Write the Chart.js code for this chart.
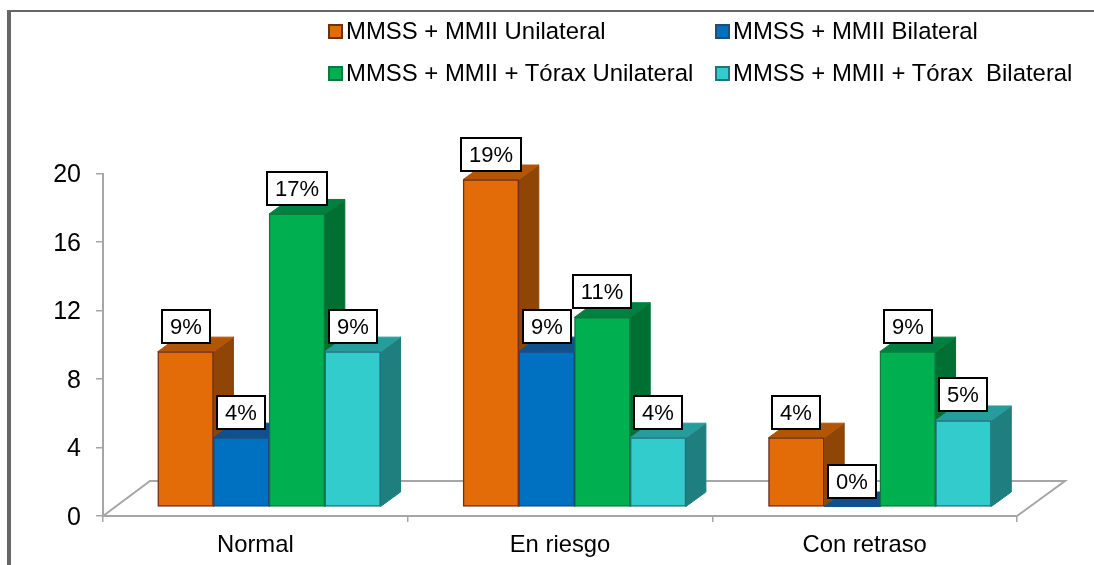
<!DOCTYPE html>
<html lang="es">
<head>
    <meta charset="UTF-8">
    <title>Desarrollo por grupo</title>
    <style>
        html, body { margin: 0; padding: 0; background: #fff; overflow: hidden; }
        body { width: 1094px; height: 565px; position: relative; font-family: "Liberation Sans", Arial, sans-serif; }
        canvas { position: absolute; left: 0; top: 0; }
        .frame { position: absolute; left: 7px; top: 10px; right: 0; bottom: 0; border-left: 4px solid #666; border-top: 2px solid #666; }
        .legend-item { position: absolute; font-size: 23.9px; line-height: 28px; white-space: pre; color: #000; }
        .legend-item i { position: absolute; width: 11px; height: 11px; border: 2px solid; top: 7px; left: -18px; }
    </style>
    <script src="https://cdn.jsdelivr.net/npm/chart.js"></script>
</head>
<body>
    <div class="frame"></div>
    <canvas id="chart" width="1094" height="565"></canvas>
    <div id="legend"></div>

    <script>
        const categories = ['Normal', 'En riesgo', 'Con retraso'];
        const seriesNames = ['MMSS + MMII Unilateral', 'MMSS + MMII Bilateral', 'MMSS + MMII + Tórax Unilateral', 'MMSS + MMII + Tórax  Bilateral'];
        const unilateral = [9, 19, 4];
        const bilateral = [4, 9, 0];
        const toraxUnilateral = [17, 11, 9];
        const toraxBilateral = [9, 4, 5];
        const yTicks = [0, 4, 8, 12, 16, 20];

        const seriesValues = [unilateral, bilateral, toraxUnilateral, toraxBilateral];
        const fronts = ['#E36C09', '#0070C0', '#00B050', '#33CCCC'];
        const borders = ['#6E2F20', '#1F4E79', '#0B7A3F', '#22737F'];
        const tops = ['#B25606', '#10508C', '#008040', '#269C9C'];
        const sides = ['#8F4506', '#0A4678', '#007032', '#1F7F7F'];
        const legendPos = [[346, 17], [733, 17], [346, 59], [733, 59]];

        const depthX = 20, depthY = 14.5;

        // floor of the 3d box, behind everything
        const floorPlugin = {
            id: 'floor',
            beforeDatasetsDraw(chart) {
                const a = chart.chartArea, ctx = chart.ctx;
                ctx.save();
                ctx.strokeStyle = '#a6a6a6';
                ctx.lineWidth = 2;
                ctx.beginPath();
                ctx.moveTo(a.left, a.bottom);
                ctx.lineTo(a.left + 47, a.bottom - 35);
                ctx.lineTo(a.right + 48, a.bottom - 35);
                ctx.lineTo(a.right, a.bottom);
                ctx.stroke();
                ctx.restore();
            }
        };

        function face(ctx, pts, fill) {
            ctx.fillStyle = fill;
            ctx.strokeStyle = fill;
            ctx.lineWidth = 1;
            ctx.beginPath();
            pts.forEach((p, i) => i ? ctx.lineTo(p[0], p[1]) : ctx.moveTo(p[0], p[1]));
            ctx.closePath();
            ctx.fill();
            ctx.stroke();
        }

        // side and top faces go under the fronts chart.js draws afterwards
        const depthPlugin = {
            id: 'depth',
            beforeDatasetsDraw(chart) {
                const ctx = chart.ctx;
                ctx.save();
                chart.data.datasets.forEach((ds, d) => {
                    chart.getDatasetMeta(d).data.forEach(bar => {
                        const l = bar.x - bar.width / 2, r = bar.x + bar.width / 2;
                        face(ctx, [[r, bar.y], [r + depthX, bar.y - depthY], [r + depthX, bar.base - depthY], [r, bar.base]], sides[d]);
                        face(ctx, [[l, bar.y], [l + depthX, bar.y - depthY], [r + depthX, bar.y - depthY], [r, bar.y]], tops[d]);
                    });
                });
                ctx.restore();
            }
        };

        const boxLabelPlugin = {
            id: 'boxLabels',
            afterDatasetsDraw(chart) {
                const ctx = chart.ctx;
                ctx.save();
                ctx.font = '22px "Liberation Sans", Arial, sans-serif';
                ctx.textAlign = 'center';
                ctx.textBaseline = 'middle';
                chart.data.datasets.forEach((ds, d) => {
                    chart.getDatasetMeta(d).data.forEach((bar, i) => {
                        const text = seriesValues[d][i] + '%';
                        const w = Math.round(ctx.measureText(text).width) + 16, h = 33;
                        const x = Math.round(bar.x - w / 2), y = Math.round(bar.y - 9 - h);
                        ctx.fillStyle = '#fff';
                        ctx.fillRect(x, y, w, h);
                        ctx.strokeStyle = '#000';
                        ctx.lineWidth = 2;
                        ctx.strokeRect(x, y, w, h);
                        ctx.fillStyle = '#000';
                        ctx.fillText(text, x + w / 2, y + h / 2 + 1);
                    });
                });
                ctx.restore();
            }
        };

        const legend = document.getElementById('legend');
        seriesNames.forEach((name, i) => {
            const item = document.createElement('div');
            item.className = 'legend-item';
            item.style.left = legendPos[i][0] + 'px';
            item.style.top = legendPos[i][1] + 'px';
            item.textContent = name;
            const mark = document.createElement('i');
            mark.style.background = fronts[i];
            mark.style.borderColor = borders[i];
            item.appendChild(mark);
            legend.appendChild(item);
        });

        new Chart(document.getElementById('chart').getContext('2d'), {
            type: 'bar',
            data: {
                labels: categories,
                datasets: seriesNames.map((name, d) => ({
                    label: name,
                    data: seriesValues[d].map((v, i) => ({ x: i, y: v })),
                    xAxisID: 'xBars',
                    yAxisID: 'yBars',
                    backgroundColor: fronts[d],
                    borderColor: borders[d],
                    borderWidth: 1.5,
                    borderSkipped: false,
                    barThickness: 55.7
                }))
            },
            options: {
                responsive: false,
                animation: false,
                layout: { padding: { top: 173.5, right: 77, left: 0, bottom: 0 } },
                plugins: { legend: { display: false }, tooltip: { enabled: false } },
                scales: {
                    x: {
                        type: 'category',
                        position: 'bottom',
                        offset: true,
                        grid: { offset: true, drawOnChartArea: false, color: '#a6a6a6', tickLength: 6, lineWidth: 1.5 },
                        border: { color: '#a6a6a6', width: 2 },
                        ticks: { color: '#000', font: { size: 23.8, family: '"Liberation Sans", Arial, sans-serif' }, padding: 9, maxRotation: 0 },
                        afterFit(s) { s.height = 49; }
                    },
                    y: {
                        position: 'left',
                        min: 0,
                        max: 20,
                        afterBuildTicks(s) { s.ticks = yTicks.map(v => ({ value: v })); },
                        grid: { drawOnChartArea: false, color: '#a6a6a6', tickLength: 7, lineWidth: 1.5 },
                        border: { color: '#a6a6a6', width: 2 },
                        ticks: { color: '#000', font: { size: 25, family: '"Liberation Sans", Arial, sans-serif' }, padding: 15, labelOffset: 2 },
                        afterFit(s) { s.width = 103; }
                    },
                    // bars stand on the raised, shifted floor of the 3d box
                    xBars: { type: 'linear', display: false, min: -0.544, max: 2.449, offset: false },
                    yBars: { type: 'linear', display: false, min: -0.55, max: 19.35 }
                }
            },
            plugins: [floorPlugin, depthPlugin, boxLabelPlugin]
        });
    </script>
</body>
</html>
